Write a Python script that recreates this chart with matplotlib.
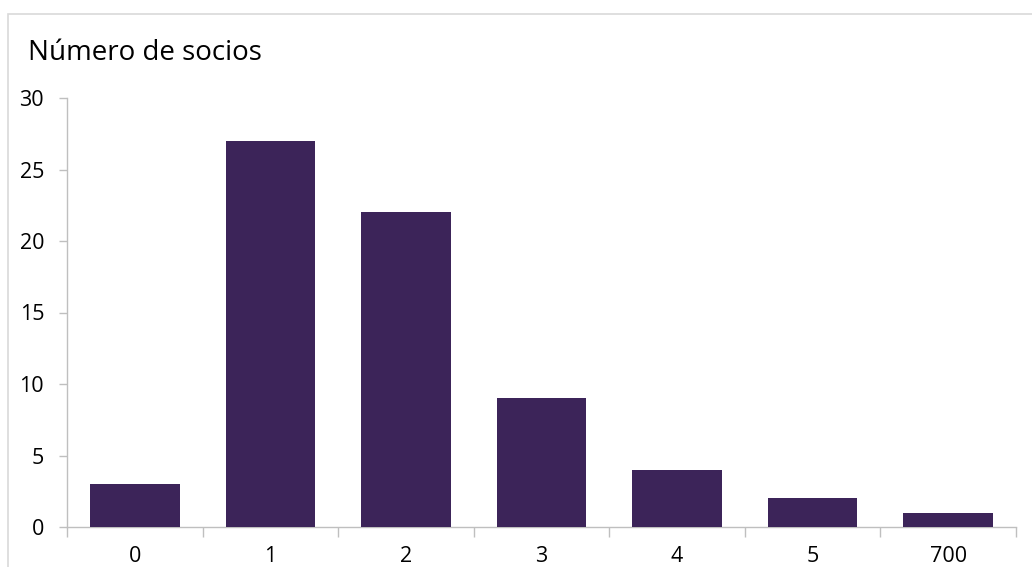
import matplotlib
matplotlib.use("Agg")
import matplotlib.pyplot as plt
from matplotlib.patches import Rectangle

categories = ["0", "1", "2", "3", "4", "5", "700"]
counts = [3, 27, 22, 9, 4, 2, 1]
y_ticks = [0, 5, 10, 15, 20, 25, 30]
title = "Número de socios"

bar_color = "#3C2459"
axis_color = "#BFBFBF"
W, H = 1032, 567

plt.rcParams["font.family"] = ["Open Sans", "DejaVu Sans"]
fig = plt.figure(figsize=(W / 100, H / 100), dpi=100)

# light chart-area border (extends past the bottom/right edges)
fig.patches.append(Rectangle((8 / W, -0.1), 1.2, (H - 14) / H + 0.1,
                             transform=fig.transFigure, fill=False,
                             edgecolor="#D9D9D9", linewidth=1.2))

ax = fig.add_axes([67 / W, (H - 527) / H, (1016 - 67) / W, (527 - 98) / H])
x = list(range(len(categories)))
ax.bar(x, counts, width=0.66, color=bar_color, zorder=3)

ax.set_xlim(-0.5, len(categories) - 0.5)
ax.set_ylim(0, 30)
ax.set_yticks(y_ticks)
ax.tick_params(axis="y", length=6, width=1, color=axis_color, labelsize=15.5,
               pad=10.5, labelcolor="black")
ax.set_xticks(x)
ax.set_xticklabels(categories)
ax.tick_params(axis="x", length=0, labelsize=15.5, pad=14, labelcolor="black")
# category boundary ticks on the x axis
ax.set_xticks([i - 0.5 for i in range(len(categories) + 1)], minor=True)
ax.tick_params(axis="x", which="minor", length=7, width=1, color=axis_color,
               direction="out")

for s in ["top", "right"]:
    ax.spines[s].set_visible(False)
for s in ["left", "bottom"]:
    ax.spines[s].set_color(axis_color)
    ax.spines[s].set_linewidth(1)

fig.text(28 / W, (H - 60) / H, title, fontsize=20, ha="left",
         va="baseline", color="black")

fig.savefig("out.png", dpi=100)
